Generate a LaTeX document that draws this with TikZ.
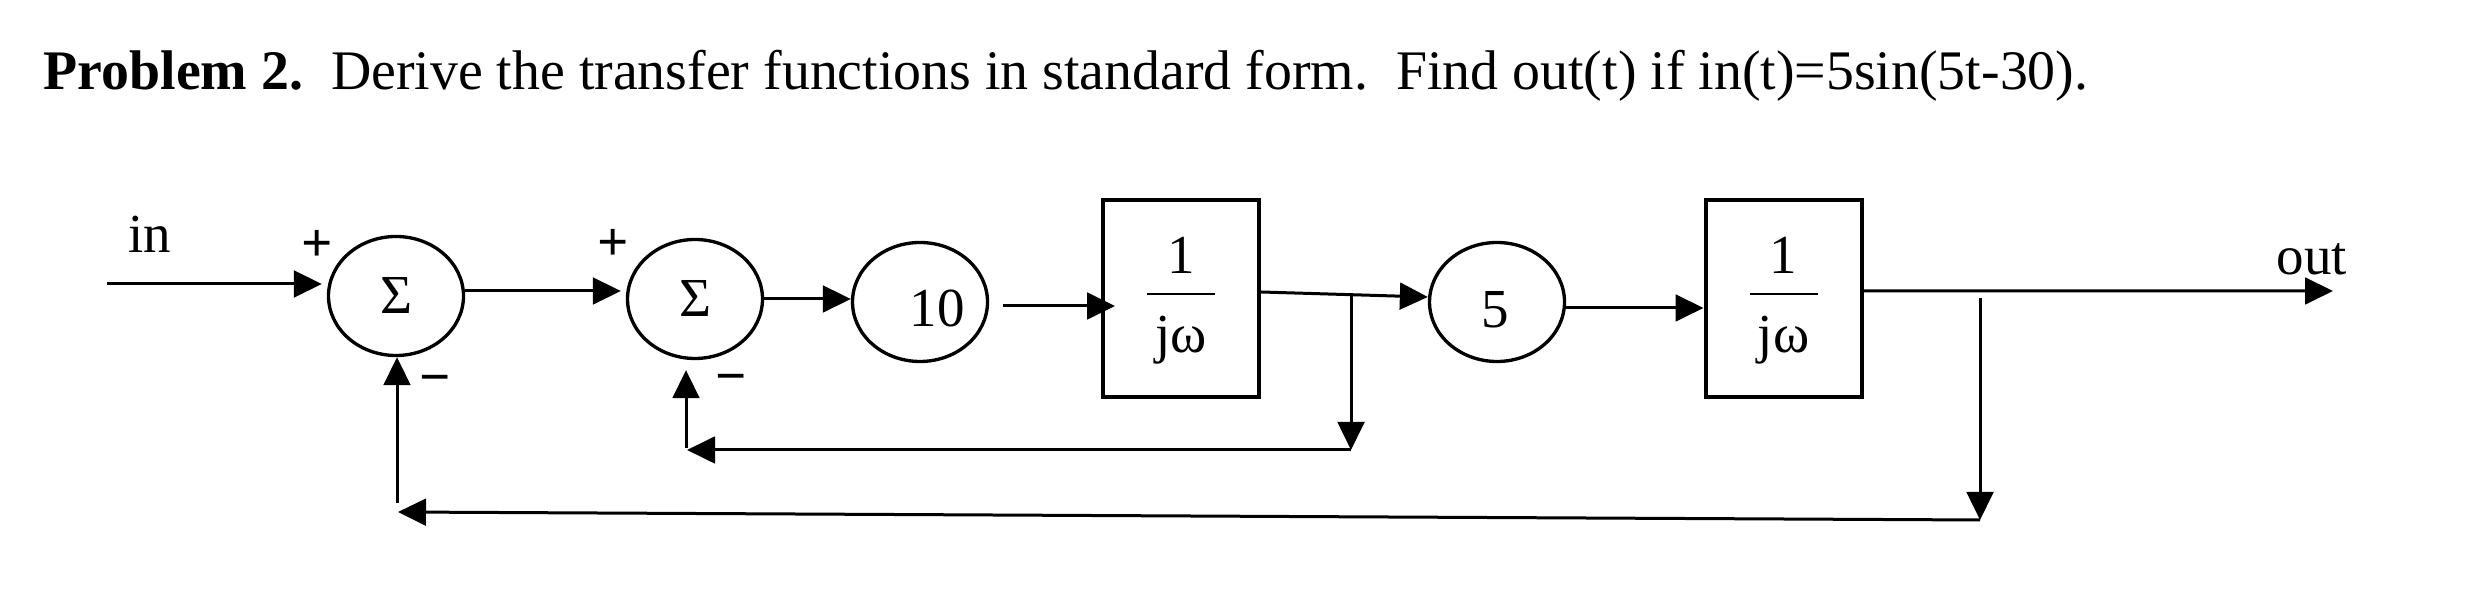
\documentclass[tikz,border=0pt]{standalone}
\usepackage{fontspec}
\setmainfont{Liberation Serif}
\usetikzlibrary{arrows.meta,shapes.geometric,calc}
\newcommand\lblfont{\fontsize{16.5pt}{20pt}\selectfont}
\newcommand\titlefont{\fontsize{16.75pt}{20pt}\selectfont}
\begin{document}
\begin{tikzpicture}[x=0.3pt,y=-0.3pt,font=\lblfont,
  sumnode/.style={draw,ellipse,line width=1pt,minimum width=40.5pt,minimum height=35.7pt,inner sep=0pt},
  tfbox/.style={draw,rectangle,line width=1.2pt,minimum width=46.8pt,minimum height=59.1pt,inner sep=0pt},
  arr/.style={line width=0.9pt,-{Triangle[length=8.4pt,width=8pt]}},
  fracline/.style={line width=0.5pt},
  sign/.style={anchor=base,inner sep=0pt,font=\lblfont\bfseries}]
\useasboundingbox (0,0) rectangle (2466,604);
% title
\node[anchor=base west,inner sep=0pt,font=\titlefont] (title) at (43,90)
  {\textbf{Problem 2.}\ \ Derive the transfer functions in standard form.\ \ Find out(t) if in(t)=5sin(5t-30).};
% blocks
\node[sumnode] (s1) at (396,296) {Σ};
\node[sumnode] (s2) at (695,299) {Σ};
\node[sumnode,label={[xshift=5.1pt,yshift=-1.8pt]center:10}] (g10) at (920,302) {};
\node[tfbox,label={[yshift=13pt]center:1},label={[yshift=-12.45pt]center:jω}] (b1) at (1181,298.5) {};
\node[sumnode,label={[xshift=-0.6pt,yshift=-2.4pt]center:5}] (g5) at (1497,302) {};
\node[tfbox,label={[yshift=13pt]center:1},label={[yshift=-12.45pt]center:jω}] (b2) at (1783.5,298.5) {};
\draw[fracline] ([shift={(-10.2pt,1.35pt)}]b1.center) -- ([shift={(10.2pt,1.35pt)}]b1.center);
\draw[fracline] ([shift={(-10.2pt,1.35pt)}]b2.center) -- ([shift={(10.2pt,1.35pt)}]b2.center);
% labels
\node[anchor=base,inner sep=0pt] (inlbl) at (150,253) {in};
\node[anchor=base,inner sep=0pt] (outlbl) at (2312,275) {out};
\node[sign] (p1) at (317,262) {+};
\node[sign] (p2) at (613,261) {+};
\node[sign] (m1) at (435,396) {−};
\node[sign] (m2) at (731,395) {−};
% coordinates
\coordinate (inS) at (107,284);
\coordinate (outE) at (2333,291);
\coordinate (j1) at (1351,295);
\coordinate (fb1r) at (1351,450);
\coordinate (fb1l) at (687,450);
\coordinate (fb1u) at (686,448);
\coordinate (j2) at (1980,298);
\coordinate (fb2r) at (1980,520);
\coordinate (fb2l) at (398,512);
\coordinate (fb2u) at (397,503);
% forward path
\draw[arr,shorten >=1.5pt] (inS) -- (inS -| s1.west);
\draw[arr,shorten >=1.5pt] ([yshift=1.5pt]s1.east) -- ([yshift=1.5pt]s1.east -| s2.west);
\draw[arr] (s2.east) -- (s2.east -| g10.west);
\draw[arr] ([xshift=4.2pt,yshift=-1.2pt]g10.east) -- ([xshift=4.2pt,yshift=-1.2pt]g10.east -| b1.west);
\draw[arr] ([yshift=1.95pt]b1.east) -- ([yshift=1.5pt]g5.west);
\draw[arr] ([yshift=-1.8pt]g5.east) -- ([yshift=-1.8pt]g5.east -| b2.west);
\draw[arr] ([yshift=2.25pt]b2.east) -- (outE);
% inner feedback
\draw[arr] (j1) -- (fb1r);
\draw[arr] (fb1r) -- (fb1l);
\draw[arr,shorten >=3pt] (fb1u) -- (fb1u |- s2.south);
% outer feedback
\draw[arr] (j2) -- (fb2r);
\draw[arr] (fb2r) -- (fb2l);
\draw[arr] (fb2u) -- (fb2u |- s1.south);
\end{tikzpicture}
\end{document}
